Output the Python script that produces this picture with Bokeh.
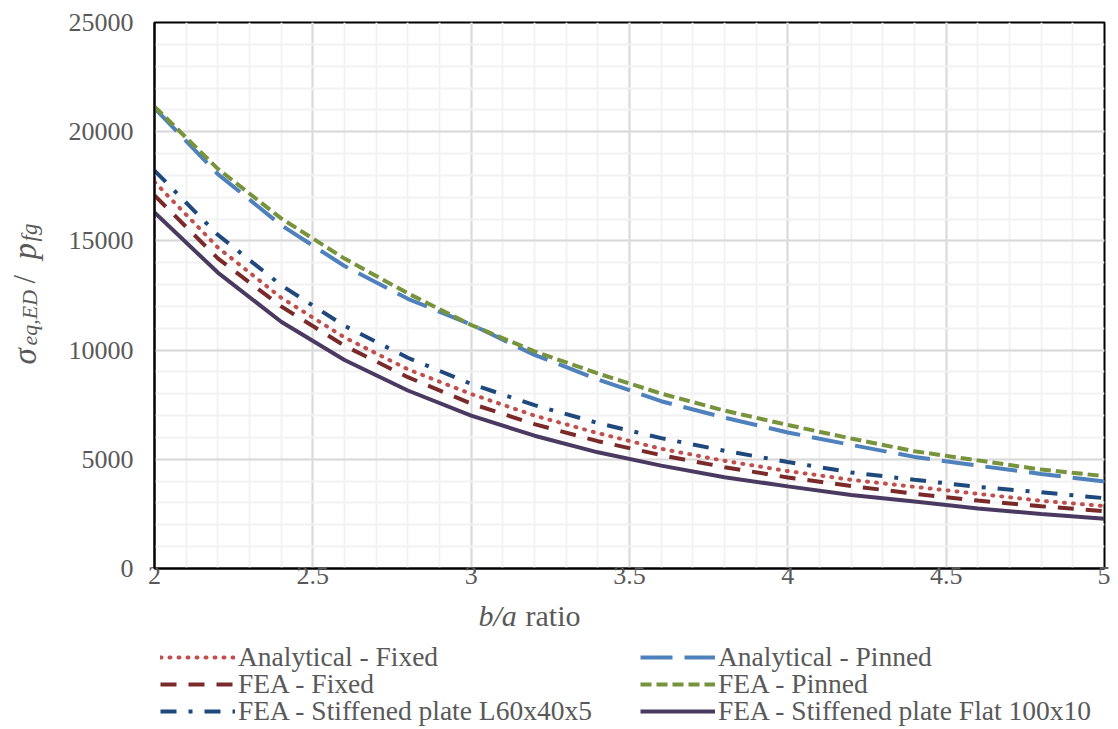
import math
from bokeh.plotting import figure
from bokeh.layouts import row, column
from bokeh.models import Range1d, FixedTicker, Legend, LegendItem, Label
from bokeh.embed import file_html
from bokeh.resources import INLINE

# ---- data ----
ratio = [2.0, 2.2, 2.4, 2.6, 2.8, 3.0, 3.2, 3.4, 3.6, 3.8, 4.0, 4.2, 4.4, 4.6, 4.8, 5.0]
analytical_fixed = [17700, 14700, 12400, 10580, 9120, 7990, 7000, 6200, 5480, 4930, 4460, 4060, 3740, 3420, 3100, 2860]
analytical_pinned = [21080, 18060, 15720, 13850, 12350, 11170, 9780, 8660, 7660, 6910, 6230, 5660, 5110, 4710, 4330, 3980]
fea_fixed = [17080, 14200, 12000, 10200, 8760, 7550, 6610, 5830, 5190, 4640, 4170, 3780, 3420, 3110, 2850, 2620]
fea_pinned = [21150, 18300, 16030, 14190, 12600, 11150, 9940, 8930, 8010, 7230, 6570, 5950, 5370, 4950, 4530, 4230]
stiff_L = [18220, 15280, 12970, 11110, 9650, 8450, 7480, 6660, 5970, 5390, 4880, 4400, 4060, 3740, 3490, 3220]
stiff_flat = [16300, 13550, 11300, 9550, 8150, 7000, 6080, 5320, 4710, 4180, 3760, 3370, 3070, 2750, 2500, 2280]

series_names = ["Analytical - Fixed", "Analytical - Pinned", "FEA - Fixed", "FEA - Pinned",
                "FEA - Stiffened plate L60x40x5", "FEA - Stiffened plate Flat 100x10"]

x_ticks = [2, 2.5, 3, 3.5, 4, 4.5, 5]
x_tick_labels = ["2", "2.5", "3", "3.5", "4", "4.5", "5"]
x_minor = [2 + 0.1 * i for i in range(31)]
y_ticks = [0, 5000, 10000, 15000, 20000, 25000]
y_tick_labels = ["0", "5000", "10000", "15000", "20000", "25000"]
y_minor = [1000 * i for i in range(26)]

x_title = ["b/a", "ratio"]
y_title = ["\u03c3", "eq,ED", "/", "p", "fg"]

SERIF = "Liberation Serif"
GREY = "#595959"
W = 4
styles = [
    dict(line_color="#C0504D", line_width=W, line_dash="1 8", line_cap="round"),
    dict(line_color="#4F81BD", line_width=W, line_dash="32 12"),
    dict(line_color="#7A2A28", line_width=W, line_dash="16 12"),
    dict(line_color="#77933C", line_width=W, line_dash="11 5"),
    dict(line_color="#1F497D", line_width=W, line_dash="16 12 4 12"),
    dict(line_color="#4A3A61", line_width=W),
]
series = [analytical_fixed, analytical_pinned, fea_fixed, fea_pinned, stiff_L, stiff_flat]

TOTAL_H = 727
LEFT_W = 60
MAIN_W = 1050
MAIN_H = 594
BOTTOM_H = TOTAL_H - MAIN_H
FRAME_L, FRAME_R, FRAME_T, FRAME_B = 154, 1104, 22, 568

# ---- main plot ----
p = figure(width=MAIN_W, height=MAIN_H, output_backend="svg", toolbar_location=None,
           x_range=Range1d(2, 5), y_range=Range1d(0, 25000),
           min_border_left=FRAME_L - LEFT_W, min_border_right=LEFT_W + MAIN_W - FRAME_R,
           min_border_top=FRAME_T, min_border_bottom=MAIN_H - FRAME_B)
p.outline_line_color = "black"
p.outline_line_width = 2

p.xaxis.ticker = FixedTicker(ticks=x_ticks, minor_ticks=x_minor)
p.yaxis.ticker = FixedTicker(ticks=y_ticks, minor_ticks=y_minor)
p.xaxis.major_label_overrides = {t: l for t, l in zip(x_ticks, x_tick_labels)}
p.yaxis.major_label_overrides = {t: l for t, l in zip(y_ticks, y_tick_labels)}
for ax in (p.xaxis, p.yaxis):
    ax.axis_line_color = "black"
    ax.axis_line_width = 2
    ax.major_tick_line_color = None
    ax.minor_tick_line_color = None
    ax.major_tick_out = 0
    ax.major_tick_in = 0
    ax.minor_tick_out = 0
    ax.minor_tick_in = 0
    ax.major_label_text_font = SERIF
    ax.major_label_text_font_size = "26px"
    ax.major_label_text_color = GREY
p.yaxis.major_label_standoff = 21
p.xaxis.major_label_standoff = -2

p.xgrid.grid_line_color = "#D9D9D9"
p.ygrid.grid_line_color = "#D9D9D9"
p.xgrid.grid_line_width = 2
p.ygrid.grid_line_width = 2
p.xgrid.minor_grid_line_color = "#F2F2F2"
p.ygrid.minor_grid_line_color = "#F2F2F2"
p.xgrid.minor_grid_line_width = 2
p.ygrid.minor_grid_line_width = 2

for vals, st in zip(series, styles):
    p.line(ratio, vals, **st)

# ---- left strip: y-axis title (data coords == picture pixels) ----
left = figure(width=LEFT_W, height=TOTAL_H, output_backend="svg", toolbar_location=None,
              x_range=Range1d(0, LEFT_W), y_range=Range1d(TOTAL_H, 0),
              x_axis_type=None, y_axis_type=None, min_border=0)
left.outline_line_color = None

def lab(fig, text, x, y, size, italic=False, angle=0.0):
    fig.add_layout(Label(x=x, y=y, text=text,
                         text_font=SERIF, text_font_size=size, text_color=GREY,
                         text_font_style="italic" if italic else "normal",
                         text_align="left", text_baseline="alphabetic", angle=angle))

A = math.pi / 2
lab(left, y_title[0], 24, 364, "33px", italic=True, angle=A)
lab(left, y_title[1], 29, 345, "22px", italic=True, angle=A)
lab(left, y_title[2], 24, 283, "31px", angle=A)
lab(left, y_title[3], 24, 259, "33px", italic=True, angle=A)
lab(left, y_title[4], 29, 241, "23px", italic=True, angle=A)

# ---- bottom strip: x-axis title + legend (data coords == picture pixels) ----
bottom = figure(width=MAIN_W, height=BOTTOM_H, output_backend="svg", toolbar_location=None,
                x_range=Range1d(FRAME_L, FRAME_R), y_range=Range1d(TOTAL_H, MAIN_H),
                x_axis_type=None, y_axis_type=None,
                min_border_left=FRAME_L - LEFT_W, min_border_right=LEFT_W + MAIN_W - FRAME_R,
                min_border_top=0, min_border_bottom=0)
bottom.outline_line_color = None

lab(bottom, x_title[0], 478, 615, "30px", italic=True)
lab(bottom, x_title[1], 525, 615, "30px")

# legend keys: same series; they fall outside this strip's ranges so only the key glyphs show
key = [bottom.line(ratio, vals, **st) for vals, st in zip(series, styles)]

ROW_Y = [54, 27, 0]          # offsets of the three legend rows (px above strip bottom)
COL_X = [160 - FRAME_L, 640 - FRAME_L]
order = [[0, 2, 4], [1, 3, 5]]
for c, idx in enumerate(order):
    for r, i in enumerate(idx):
        bottom.add_layout(Legend(items=[LegendItem(label=series_names[i], renderers=[key[i]])],
                                 location=(COL_X[c], ROW_Y[r]), padding=0, margin=0, spacing=0,
                                 glyph_width=75, glyph_height=20, label_standoff=3,
                                 label_text_font=SERIF, label_text_font_size="27.5px",
                                 label_text_color=GREY,
                                 background_fill_alpha=0, border_line_color=None))

layout = row(left, column(p, bottom, spacing=0), spacing=0)
open("out.html", "w").write(file_html(layout, INLINE))
